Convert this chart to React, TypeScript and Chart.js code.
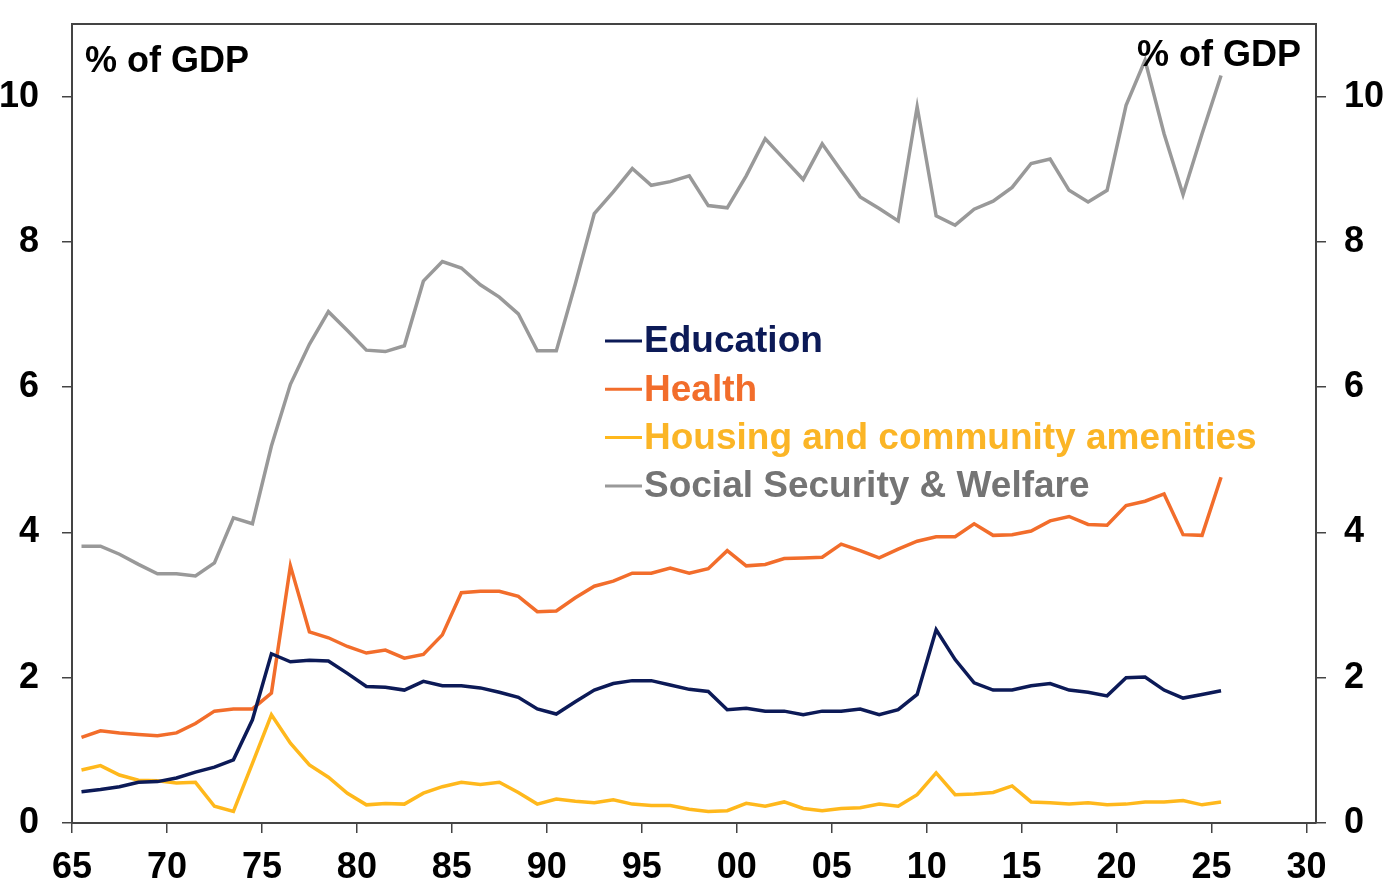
import React, { useEffect, useRef } from 'react';
import { Chart, registerables } from 'chart.js';

Chart.register(...registerables);

// fiscal years, plotted at mid-year
const years = [
  1965.5, 1966.5, 1967.5, 1968.5, 1969.5, 1970.5, 1971.5, 1972.5, 1973.5, 1974.5,
  1975.5, 1976.5, 1977.5, 1978.5, 1979.5, 1980.5, 1981.5, 1982.5, 1983.5, 1984.5,
  1985.5, 1986.5, 1987.5, 1988.5, 1989.5, 1990.5, 1991.5, 1992.5, 1993.5, 1994.5,
  1995.5, 1996.5, 1997.5, 1998.5, 1999.5, 2000.5, 2001.5, 2002.5, 2003.5, 2004.5,
  2005.5, 2006.5, 2007.5, 2008.5, 2009.5, 2010.5, 2011.5, 2012.5, 2013.5, 2014.5,
  2015.5, 2016.5, 2017.5, 2018.5, 2019.5, 2020.5, 2021.5, 2022.5, 2023.5, 2024.5,
  2025.5,
];

const education = [
  0.43, 0.46, 0.50, 0.56, 0.57, 0.62, 0.70, 0.77, 0.87, 1.42,
  2.33, 2.22, 2.24, 2.23, 2.06, 1.88, 1.87, 1.83, 1.95, 1.89,
  1.89, 1.86, 1.80, 1.73, 1.57, 1.50, 1.67, 1.83, 1.92, 1.96,
  1.96, 1.90, 1.84, 1.81, 1.56, 1.58, 1.54, 1.54, 1.49, 1.54,
  1.54, 1.57, 1.49, 1.56, 1.77, 2.66, 2.25, 1.93, 1.83, 1.83,
  1.89, 1.92, 1.83, 1.80, 1.75, 2.00, 2.01, 1.83, 1.72, 1.77,
  1.82,
];

const health = [
  1.18, 1.27, 1.24, 1.22, 1.20, 1.24, 1.37, 1.54, 1.57, 1.57,
  1.79, 3.54, 2.63, 2.55, 2.43, 2.34, 2.38, 2.27, 2.32, 2.59,
  3.17, 3.19, 3.19, 3.12, 2.91, 2.92, 3.10, 3.26, 3.33, 3.44,
  3.44, 3.51, 3.44, 3.50, 3.75, 3.54, 3.56, 3.64, 3.65, 3.66,
  3.84, 3.75, 3.65, 3.77, 3.88, 3.94, 3.94, 4.12, 3.96, 3.97,
  4.02, 4.16, 4.22, 4.11, 4.10, 4.37, 4.43, 4.53, 3.97, 3.96,
  4.76,
];

const housing = [
  0.73, 0.79, 0.66, 0.59, 0.58, 0.55, 0.56, 0.23, 0.16, 0.82,
  1.49, 1.10, 0.80, 0.63, 0.41, 0.25, 0.27, 0.26, 0.41, 0.50,
  0.56, 0.53, 0.56, 0.42, 0.26, 0.33, 0.30, 0.28, 0.32, 0.26,
  0.24, 0.24, 0.19, 0.16, 0.17, 0.27, 0.23, 0.29, 0.20, 0.17,
  0.20, 0.21, 0.26, 0.23, 0.39, 0.69, 0.39, 0.40, 0.42, 0.51,
  0.29, 0.28, 0.26, 0.28, 0.25, 0.26, 0.29, 0.29, 0.31, 0.25,
  0.29,
];

const welfare = [
  3.81, 3.81, 3.70, 3.56, 3.43, 3.43, 3.40, 3.58, 4.20, 4.12,
  5.19, 6.04, 6.59, 7.04, 6.78, 6.51, 6.49, 6.57, 7.46, 7.73,
  7.64, 7.41, 7.24, 7.01, 6.50, 6.50, 7.42, 8.39, 8.69, 9.01,
  8.78, 8.83, 8.91, 8.50, 8.47, 8.91, 9.42, 9.14, 8.86, 9.35,
  8.98, 8.62, 8.46, 8.29, 9.86, 8.36, 8.23, 8.45, 8.56, 8.75,
  9.08, 9.14, 8.71, 8.55, 8.71, 9.88, 10.50, 9.49, 8.65, 9.49,
  10.29,
];

const xTicks = [1965, 1970, 1975, 1980, 1985, 1990, 1995, 2000, 2005, 2010, 2015, 2020, 2025, 2030];
const yTicks = [0, 2, 4, 6, 8, 10];

const seriesNames = ['Education', 'Health', 'Housing and community amenities', 'Social Security & Welfare'];
const lineColors = ['#0c1a57', '#f26d2b', '#ffb81c', '#999999'];
const textColors = ['#0c1a57', '#f26d2b', '#fbb526', '#747474'];

const FONT = '"Liberation Sans", Arial, Helvetica, sans-serif';

const toPoints = (vals: number[]) => vals.map((v, i) => ({ x: years[i], y: v }));

const overlayPlugin = {
  id: 'overlay',
  afterDatasetsDraw(chart: any) {
    const { ctx, chartArea } = chart;
    ctx.save();
    // top frame line
    ctx.strokeStyle = '#444';
    ctx.lineWidth = 2;
    ctx.beginPath();
    ctx.moveTo(chartArea.left, chartArea.top);
    ctx.lineTo(chartArea.right, chartArea.top);
    ctx.stroke();

    // axis titles
    ctx.fillStyle = '#000';
    ctx.font = `bold 36px ${FONT}`;
    ctx.textBaseline = 'alphabetic';
    ctx.textAlign = 'left';
    ctx.fillText('% of GDP', 85, 72);
    ctx.textAlign = 'right';
    ctx.fillText('% of GDP', 1301, 66);

    // legend
    ctx.font = `bold 37px ${FONT}`;
    ctx.textAlign = 'left';
    ctx.textBaseline = 'middle';
    seriesNames.forEach((name, i) => {
      const y = 341 + i * 48.3;
      ctx.strokeStyle = lineColors[i];
      ctx.lineWidth = 3;
      ctx.beginPath();
      ctx.moveTo(605, y);
      ctx.lineTo(642, y);
      ctx.stroke();
      ctx.fillStyle = textColors[i];
      ctx.fillText(name, 644, y + 1);
    });
    ctx.restore();
  },
};

const noPad = (scale: any) => {
  scale.paddingTop = 0;
  scale.paddingBottom = 0;
  scale.paddingLeft = 0;
  scale.paddingRight = 0;
};

const App: React.FC = () => {
  const chartRef = useRef<HTMLCanvasElement | null>(null);
  const chartInstance = useRef<Chart | null>(null);

  useEffect(() => {
    if (!chartRef.current) return;
    const ctx = chartRef.current.getContext('2d');
    if (!ctx) return;

    if (chartInstance.current) {
      chartInstance.current.destroy();
    }

    const tickFont = { family: FONT, size: 36, weight: 'bold' as const };
    const axisGrid = { drawOnChartArea: false, drawTicks: true, tickLength: 10, color: '#444', lineWidth: 1.5 };
    const axisBorder = { display: true, color: '#444', width: 2 };

    chartInstance.current = new Chart(ctx, {
      type: 'line',
      data: {
        datasets: [
          { label: seriesNames[0], data: toPoints(education), borderColor: lineColors[0] },
          { label: seriesNames[1], data: toPoints(health), borderColor: lineColors[1] },
          { label: seriesNames[2], data: toPoints(housing), borderColor: lineColors[2] },
          { label: seriesNames[3], data: toPoints(welfare), borderColor: lineColors[3] },
        ].map((d) => ({ ...d, borderWidth: 3.5, pointRadius: 0, tension: 0, fill: false })),
      },
      options: {
        animation: false,
        responsive: true,
        maintainAspectRatio: false,
        layout: { padding: { top: 24, left: 0, right: 0, bottom: 0 } },
        plugins: {
          legend: { display: false },
          tooltip: { enabled: false },
        },
        scales: {
          x: {
            type: 'linear',
            min: 1965,
            max: 2030.5,
            afterBuildTicks: (scale: any) => {
              scale.ticks = xTicks.map((v) => ({ value: v }));
            },
            afterFit: (scale: any) => {
              scale.height = 69;
              noPad(scale);
            },
            grid: axisGrid,
            border: axisBorder,
            ticks: {
              color: '#000',
              font: tickFont,
              padding: 13,
              maxRotation: 0,
              autoSkip: false,
              callback: (v: any) => String(Number(v) % 100).padStart(2, '0'),
            },
          },
          y: {
            position: 'left',
            min: 0,
            max: 11,
            afterBuildTicks: (scale: any) => {
              scale.ticks = yTicks.map((v) => ({ value: v }));
            },
            afterFit: (scale: any) => {
              scale.width = 72;
              noPad(scale);
            },
            grid: axisGrid,
            border: axisBorder,
            ticks: { color: '#000', font: tickFont, padding: 23 },
          },
          y1: {
            position: 'right',
            min: 0,
            max: 11,
            afterBuildTicks: (scale: any) => {
              scale.ticks = yTicks.map((v) => ({ value: v }));
            },
            afterFit: (scale: any) => {
              scale.width = 77;
              noPad(scale);
            },
            grid: axisGrid,
            border: axisBorder,
            ticks: { color: '#000', font: tickFont, padding: 18 },
          },
        },
      },
      plugins: [overlayPlugin],
    });

    return () => {
      if (chartInstance.current) {
        chartInstance.current.destroy();
        chartInstance.current = null;
      }
    };
  }, []);

  return (
    <div style={{ position: 'fixed', left: 0, top: 0, width: 1393, height: 892, background: '#fff' }}>
      <canvas ref={chartRef}></canvas>
    </div>
  );
};

export default App;
